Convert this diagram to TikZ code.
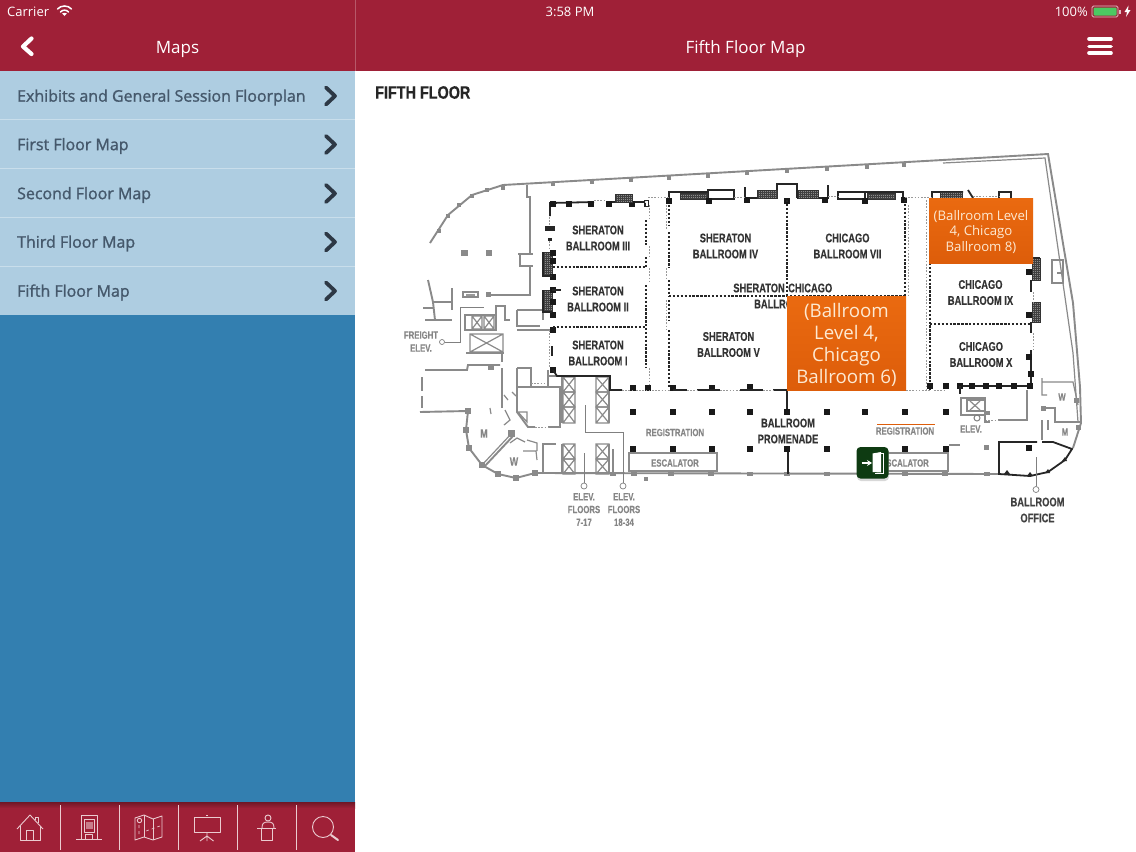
\documentclass[tikz,border=0pt]{standalone}
\usepackage{fontspec}
\usetikzlibrary{shadows,arrows.meta}
\setmainfont{Open Sans}
\newfontfamily\listfont[FakeBold=1.3]{Open Sans}
\newfontfamily\planfont[FakeStretch=0.74,FakeBold=0.2]{Liberation Sans}
\newfontfamily\greyfont[FakeStretch=0.74,FakeBold=0.1]{Liberation Sans}
\newfontfamily\titlefont[FakeStretch=0.8,FakeBold=0.3]{Liberation Sans}
\definecolor{barred}{HTML}{9F2037}
\definecolor{listblue}{HTML}{AECDE1}
\definecolor{listline}{HTML}{C9DEEB}
\definecolor{deepblue}{HTML}{337FB0}
\definecolor{listtext}{HTML}{45586B}
\definecolor{chev}{HTML}{2D3845}
\definecolor{orangetop}{HTML}{EA6A10}
\definecolor{orangebot}{HTML}{DD5D0A}
\definecolor{orangetext}{HTML}{FDE9D2}
\definecolor{wallgray}{HTML}{8A8A8A}
\definecolor{labgray}{HTML}{868686}
\definecolor{exitgreen}{HTML}{0E3B12}
\definecolor{iconline}{HTML}{EBCBD0}
\definecolor{battgreen}{HTML}{4CC962}
\tikzset{
  wallg/.style={draw=wallgray,line width=1.9pt},
  wallt/.style={draw=wallgray,line width=1.2pt},
  wallk/.style={draw=black!85,line width=1.8pt},
  part/.style={draw=black!85,line width=1.5pt,dash pattern=on 2.4pt off 1.5pt},
  gate/.style={draw=black!40,line width=1pt,dash pattern=on 1.6pt off 1.6pt},
  lead/.style={draw=black!50,line width=.7pt},
  roomlab/.style={font=\planfont\bfseries\fontsize{12.6}{16}\selectfont,text=black!80,align=center,inner sep=0pt},
  greylab/.style={font=\greyfont\bfseries\fontsize{10.5}{13}\selectfont,text=labgray,align=center,inner sep=0pt},
  listlab/.style={anchor=west,inner sep=0pt,text=listtext,font=\listfont\fontsize{15.95}{18}\selectfont},
  chevron/.style={draw=chev,line width=3.8pt,line cap=round,line join=round},
  icon/.style={draw=iconline,line width=.9pt,line join=round},
  white text/.style={text=white,inner sep=0pt},
  leadcircle/.style={circle,draw=black!50,line width=.7pt,minimum size=6pt,inner sep=0pt,fill=white},
}
\newcommand{\colk}[2]{\fill[black!90] (#1-2.7,#2-2.7) rectangle ++(5.4,5.4);}
\newcommand{\colg}[2]{\fill[wallgray] (#1-2.6,#2-2.2) rectangle ++(5.2,4.4);}
\newcommand{\stairs}[4]{\fill[black!45] (#1,#2) rectangle (#3,#4);
  \draw[black!75,line width=.35pt,step=2pt] (#1,#2) grid (#3,#4);
  \draw[black!80,line width=.6pt] (#1,#2) rectangle (#3,#4);}
\newcommand{\xbox}[4]{\draw[wallt] (#1,#2) rectangle (#3,#4) (#1,#2) -- (#3,#4) (#1,#4) -- (#3,#2);}
\begin{document}
\begin{tikzpicture}[x=1pt,y=-1pt]
\useasboundingbox (0,0) rectangle (1136,852);
% backgrounds
\fill[white] (0,0) rectangle (1136,852);
\fill[barred] (356,0) rectangle (1136,71);
\fill[barred] (0,0) rectangle (355,71);
\fill[listblue] (0,71) rectangle (355,315);
\fill[deepblue] (0,315) rectangle (355,803);
\fill[barred] (0,803) rectangle (355,852);
\shade[top color=black!30!barred,bottom color=barred] (0,802) rectangle (355,808);
\foreach \yy in {119.5,168.5,217.5,266} \draw[listline,line width=.8pt] (0,\yy) -- (355,\yy);
\draw[white!25!barred,line width=.6pt] (355.5,0) -- (355.5,71);
% status bar
\node[white text,anchor=west,font=\fontsize{13}{15}\selectfont] (carrier) at (7,12) {Carrier};
\node[white text,font=\fontsize{13}{15}\selectfont] (clock) at (570,12) {3:58 PM};
\node[white text,anchor=east,font=\fontsize{13}{15}\selectfont] (batt) at (1088,12) {100\%};
\begin{scope}[white,line cap=round]
\draw[line width=1.5pt] (57.5,9) .. controls (61,5) and (68,5) .. (71.5,9);
\draw[line width=1.5pt] (60.5,12) .. controls (62.5,9.5) and (66.5,9.5) .. (68.5,12);
\fill (64.5,16) -- (62.2,13.5) .. controls (63.5,12.5) and (65.5,12.5) .. (66.8,13.5) -- cycle;
\end{scope}
\draw[white!70!barred,line width=.8pt,rounded corners=1.5pt] (1092,6) rectangle (1118,17);
\fill[battgreen,rounded corners=1pt] (1093.5,7.5) rectangle (1116.5,15.5);
\fill[white!70!barred] (1119,9.5) rectangle (1120.5,13.5);
\fill[white] (1128.5,5.5) -- (1124.5,12) -- (1127,12) -- (1126,17) -- (1130.5,10) -- (1128,10) -- cycle;
% nav
\draw[white,line width=4.2pt,line cap=round,line join=round] (31.5,38.5) -- (23,46.5) -- (31.5,54);
\node[white text,font=\fontsize{17}{20}\selectfont] (mapstitle) at (177.5,49) {Maps};
\node[white text,font=\fontsize{17}{20}\selectfont] (fifthtitle) at (745.5,49) {Fifth Floor Map};
\foreach \yy in {39,46.5,53} \draw[white,line width=3.6pt,line cap=round] (1089,\yy) -- (1111,\yy);
% list
\node[listlab] (l1) at (17,97.5) {Exhibits and General Session Floorplan};
\node[listlab] (l2) at (17,146) {First Floor Map};
\node[listlab] (l3) at (17,195) {Second Floor Map};
\node[listlab] (l4) at (17,243.5) {Third Floor Map};
\node[listlab] (l5) at (17,292.5) {Fifth Floor Map};
\foreach \yy in {96,144.5,193.5,242,291} \draw[chevron] (326,\yy-8.5) -- (335,\yy) -- (326,\yy+8.5);
% tab bar
\foreach \xx in {60,119,178,237,296} \draw[iconline,line width=.9pt] (\xx,805) -- (\xx,850);
\begin{scope}[icon]
\draw (17,829) -- (30,815) -- (43,829);
\draw (20,826) -- (20,840) -- (40,840) -- (40,826);
\draw (26,840) -- (26,830) -- (33,830) -- (33,840);
\draw (35.5,820) -- (35.5,817) -- (38.5,817) -- (38.5,823);
\draw (81,839) -- (81,815) -- (97,815) -- (97,839);
\draw (76,839.5) -- (102,839.5);
\draw (84,819) rectangle (94,832);
\fill[iconline,opacity=.55] (85.5,822) rectangle (92.5,829);
\draw (85,834) rectangle (92,839);
\draw (135,818) -- (144,815) -- (153,819) -- (162,816) -- (162,837) -- (153,840) -- (144,837) -- (135,840) -- cycle;
\draw (144,815) -- (144,837) (153,819) -- (153,840);
\draw (139.5,820.5) circle (2.2);
\draw[dashed,line width=.6pt] (139,825) -- (139,834) (146,831) -- (160,826);
\draw (194,817) rectangle (220,832);
\draw (206,815) -- (208,815);
\draw (207,832) -- (207,836) (207,836) -- (200,841) (207,836) -- (213.5,841) (207,836) -- (207,841);
\draw (268,818) circle (3);
\draw (262,828) .. controls (262,823) and (264,822) .. (268,822) .. controls (272,822) and (274,823) .. (274,828);
\draw (257,828) -- (276,828);
\draw (261,828) -- (261,840) -- (272,840) -- (272,828);
\draw (323,827) circle (10.5);
\draw[line width=2pt,line cap=round] (331,835) -- (338,840);
\end{scope}
% ---------- floor plan ----------
\node[anchor=west,inner sep=0pt,text=black!85,font=\titlefont\bfseries\fontsize{18}{20}\selectfont] (floortitle) at (375,92.5) {FIFTH FLOOR};
% outer wall
\draw[wallg] (430,243) -- (448,215) -- (472,195) -- (503,185) -- (1048,154) -- (1073,303) -- (1080,387) -- (1081,423) -- (1073,448);
\draw[wallt] (943,163) -- (1045,158) -- (1073,353) -- (1078,422);
\foreach \a/\b in {448/215,472/195,439/230,459/204,487/189,503/187,553/183,592/181,631/179,669/177,708/175,747/172,787/170,827/168,867/166,904/164} \fill[wallgray] (\a-2.2,\b-1) rectangle ++(4.4,4.4);
% bottom wall
\draw[wallg] (420,412) -- (468,411) -- (466,430) -- (469,448) -- (482,465) -- (498,474) -- (516,478) -- (535,473) -- (1000,474);
\draw[wallt] (482,465) -- (512,433);
\draw[wallg] (484,467) -- (514,435);
\fill[wallgray] (508,430) rectangle (515,437);
\foreach \a/\b in {468/411,466/430,469/448,482/465,498/474,516/478,535/473} \fill[wallgray] (\a-2.7,\b-2.7) rectangle ++(5.4,5.4);
\foreach \a in {613,634,671,711,750,787,827,905,945,987} \colg{\a}{474}
\fill[wallgray] (644,477) rectangle (648,481);
% upper-left gray interior
\draw[wallg] (527,185) -- (527,197) -- (530,197) -- (530,253);
\draw[wallg] (518,254) -- (533,254);
\draw[wallg] (520,255) -- (520,266) -- (533,266);
\draw[wallg] (530,266) -- (530,295) -- (490,295);
\fill[wallgray] (461,250) rectangle (468,256);
\fill[wallgray] (486,250) rectangle (492,256);
\fill[wallgray] (486,292) rectangle (491,297);
\draw[wallt] (463,292) rectangle (478,297);
\fill[black!40] (466,293.5) rectangle (475,295.5);
% freight
\draw[wallg] (428,280) -- (433,302) -- (435,320);
\draw[wallg] (425,320) -- (452,320) (423,308) -- (434,308) (433,302) -- (452,302) (452,288) -- (452,310);
\draw[wallg] (465,315) rectangle (496,330);
\draw[wallt] (472,316) rectangle (482,329) (472,316) -- (482,329) (472,329) -- (482,316);
\draw[wallt] (484,316) rectangle (494,329) (484,316) -- (494,329) (484,329) -- (494,316);
\xbox{470}{334}{503}{352}
\draw[wallg] (466,353) -- (504,353);
\draw[wallt] (496,325) -- (496,306) -- (505,306) -- (505,320) -- (510,320);
\node[leadcircle,minimum size=5pt] (frcirc) at (442,342) {};
\draw[lead] (frcirc) -- (460,342) -- (460,307) -- (484,307);
\node[greylab] (freight) at (421,341.5) {FREIGHT\\ELEV.};
% mid-left rooms
\draw[wallg] (517,310) -- (517,326) -- (540,326) (517,310) -- (543,310) -- (543,320);
\draw[wallg] (517,330) -- (552,330);
\draw[wallg] (425,370) -- (467,370) -- (468,365) -- (500,365);
\draw[wallg,dash pattern=on 14pt off 5pt] (422,377) -- (422,408);
\fill[wallgray] (488,364) rectangle (494,370);
\draw[wallt] (502,353) -- (502,362) (502,368) -- (502,408);
\draw[wallt] (504,395) -- (508,400) (512,392) -- (516,396);
\draw[wallg] (517,368) -- (517,412) -- (528,427) -- (535,427);
\draw[wallg] (517,387) -- (560,387) -- (560,427) -- (548,427);
\draw[wallt] (517,368) -- (531,368) -- (531,387);
\draw[wallt] (518,412) -- (527,412) -- (527,422) -- cycle;
\draw[wallt] (548,370) -- (548,386) (548,376) -- (557,376);
\draw[gate] (531,383) -- (546,383) (535,427) -- (548,427);
\xbox{563}{377}{575}{392}
\xbox{563}{392}{575}{407}
\xbox{563}{407}{575}{423}
\xbox{596}{377}{609}{392}
\xbox{596}{392}{609}{407}
\xbox{596}{407}{609}{423}
\xbox{563}{444}{575}{459}
\xbox{563}{459}{575}{474}
\xbox{596}{444}{609}{459}
\xbox{596}{459}{609}{474}
\draw[wallg] (562,377) -- (562,423) (609,377) -- (609,423) (562,444) -- (562,474) (609,444) -- (609,474);
\draw[wallt] (613,449) -- (613,472);
\draw[wallg] (543,474) -- (543,444) -- (556,444);
\draw[wallt] (490,408) -- (491,414) (505,410) -- (510,420) -- (504,425) (510,443) -- (517,438) -- (525,442) (523,451) -- (536,451) -- (537,460) (527,440) -- (537,443) -- (537,451);
\node[greylab,font=\greyfont\bfseries\fontsize{12}{14}\selectfont] (mw1) at (484,433.5) {M};
\node[greylab,font=\greyfont\bfseries\fontsize{12}{14}\selectfont] (mw2) at (514,461.5) {W};
% elevator leaders
\node[leadcircle] (e1) at (584,486) {};
\node[leadcircle] (e2) at (623,486) {};
\draw[lead] (e1) -- (584,453);
\draw[lead] (e2) -- (623,432) -- (585,432) -- (585,405);
\node[greylab,font=\greyfont\bfseries\fontsize{10.5}{12.8}\selectfont] (el1) at (584,509.5) {ELEV.\\FLOORS\\7-17};
\node[greylab,font=\greyfont\bfseries\fontsize{10.5}{12.8}\selectfont] (el2) at (624,509.5) {ELEV.\\FLOORS\\18-34};
% ballroom walls - top
\draw[wallk] (550,216) -- (550,203) -- (594,202) (606,202) -- (645,202);
\foreach \a in {553,569,591,609,632} \colk{\a}{204}
\stairs{615}{194}{632}{202}
\draw[wallk] (645,203) -- (645,207);
\draw[wallk,line width=1pt] (644,200) rectangle (648,206);
\draw[wallk] (669,200) -- (669,192) -- (708,192);
\draw[wallk] (708,190) rectangle (734,199);
\stairs{680}{193}{707}{199}
\colk{709}{201}\colk{669}{201}
\draw[wallk] (745,187) -- (745,198) -- (757,198);
\draw[wallk] (777,198) -- (777,184) -- (797,184) -- (797,198) (777,198) -- (749,198) (797,198) -- (828,198) -- (828,185);
\stairs{757}{190}{777}{198}
\stairs{798}{190}{818}{198}
\colk{747}{200}\colk{787}{201}\colk{825}{200}
\draw[wallk] (838,192) rectangle (865,199);
\stairs{867}{193}{895}{199}
\draw[wallk] (865,192) -- (903,192) -- (903,199);
\colk{865}{201}\colk{904}{200}
\draw[wallk] (932,198) -- (932,192) -- (963,192) (968,190) -- (973,198);
\stairs{940}{192}{962}{198}
\draw[wallk] (999,198) -- (999,192) -- (1011,192) -- (1011,198);
\draw[gate] (594,200) -- (606,200) (648,197) -- (669,197) (734,197) -- (745,197) (828,196) -- (838,196) (905,197) -- (932,197) (973,196) -- (999,196);
% sheraton partitions
\draw[gate] (549,217) -- (549,232) (549,238) -- (549,250);
\fill[black!85] (545,226) rectangle (555,231);
\fill[black!85] (548,238) rectangle (552,241);
\stairs{543}{252}{552}{276}
\stairs{543}{290}{552}{312}
\foreach \b in {253,261,277,290,302,315,330,370} \colk{553}{\b}
\draw[wallk] (543,252) -- (543,276) -- (552,276);
\draw[wallk] (552,290) -- (561,290) (543,290) -- (543,312) -- (552,312);
\draw[part] (553,267) -- (646,267);
\draw[part] (553,327) -- (646,327);
\draw[part] (646,220) -- (646,245) (646,257) -- (646,267) (646,285) -- (646,367);
\draw[gate] (649,205) -- (649,219) (649,246) -- (649,257) (649,268) -- (649,283) (649,368) -- (649,388);
\draw[part] (669,205) -- (669,225) (669,232) -- (669,268) (669,280) -- (669,296) (669,300) -- (669,320) (669,330) -- (669,388);
\draw[gate] (666,205) -- (666,230) (666,268) -- (666,278) (666,300) -- (666,330);
\draw[gate] (549,330) -- (549,367);
\draw[wallk] (552,346) -- (552,356);
\draw[wallk] (553,370) -- (557,376) -- (610,376) -- (610,390) -- (622,390);
% bottom wall row
\colk{633}{388}\colk{648}{388}\colk{673}{388}\colk{712}{388}\colk{750}{387}
\draw[wallk] (673,390) -- (687,390) (697,390) -- (720,390) (740,390) -- (763,390) (773,390) -- (787,390);
\draw[gate] (622,390) -- (632,390) (636,390) -- (670,390) (687,390) -- (697,390) (720,390) -- (740,390) (763,390) -- (773,390) (906,390) -- (930,390) (934,390) -- (946,390);
\draw[wallk] (787,390) -- (787,412);
\draw[wallk] (788,450) -- (788,474);
% sheraton / chicago centre partitions
\draw[part] (669,296) -- (905,296);
\draw[part] (787,200) -- (787,296);
\draw[part] (905,200) -- (905,296);
\draw[gate] (908,205) -- (908,296);
% chicago right block
\draw[gate] (926,200) -- (926,390);
\draw[part] (930,263) -- (930,390);
\draw[part] (930,324) -- (1031,324);
\stairs{1032}{258}{1040}{280}
\stairs{1032}{302}{1040}{322}
\draw[wallk] (1032,258) -- (1040,258) (1031,280) -- (1031,292) (1031,322) -- (1031,333) (1031,350) -- (1031,387);
\colk{1029}{272}\colk{1029}{315}\colk{1029}{357}\colk{1031}{374}
\draw[gate] (1033,292) -- (1033,302) (1033,333) -- (1033,350);
\colk{930}{386}\colk{946}{386}
\draw[wallk] (960,386) -- (1031,386);
\foreach \a in {960,972,986,999,1014,1030} \colk{\a}{386}
\draw[wallk] (960,386) -- (960,394);
\draw[wallt] (1052,260) rectangle (1063,283);
\draw[wallt] (1057,273) -- (1063,273);
% columns in promenade
\foreach \a in {633,673,712,750,787,827,865,905,946} \colk{\a}{412}
\foreach \a in {633,673,712,750,787,827,905,946} \colk{\a}{449}
% escalators
\draw[wallt,draw=black!45] (629,453) rectangle (717,471);
\draw[wallt,draw=black!45] (862,453) rectangle (948,471);
\node[greylab] (esc1) at (675,463) {ESCALATOR};
\node[greylab] (esc2) at (905,463) {ESCALATOR};
\node[greylab] (reg1) at (675,432.5) {REGISTRATION};
\node[greylab] (reg2) at (905,431) {REGISTRATION};
\draw[orangebot,line width=1.2pt] (877,424.5) -- (935,424.5);
\node[roomlab] (promenade) at (788,431) {BALLROOM\\PROMENADE};
% east rooms
\draw[wallg] (1027,390) -- (1027,420) -- (998,420);
\draw[gate] (985,420) -- (998,420);
\draw[wallt] (961,398) rectangle (985,415);
\draw[wallt] (967,400) rectangle (985,411);
\draw[wallt] (970,401) -- (980,410) (970,410) -- (980,401);
\draw[wallt] (985,415) -- (985,422) -- (990,422);
\draw[black!50,line width=1pt] (977,418) circle (3);
\fill[wallgray] (985,411) rectangle (990,415);
\fill[wallgray] (984,445) rectangle (989,450);
\draw[wallg] (949,445) -- (960,445);
\node[greylab,font=\greyfont\bfseries\fontsize{10.5}{12}\selectfont] (elev3) at (971,429) {ELEV.};
\draw[wallt] (1042,378) -- (1042,395) -- (1047,395) (1042,382) -- (1073,382) -- (1078,405);
\draw[wallt] (1043,408) -- (1055,408) -- (1055,422) -- (1080,422) (1042,420) -- (1042,440) (1048,420) -- (1048,430);
\fill[wallgray] (1041,406) rectangle (1046,411);
\fill[wallgray] (1074,398) rectangle (1079,403);
\fill[wallgray] (1076,425) rectangle (1081,430);
\node[greylab,font=\greyfont\bfseries\fontsize{10.5}{12}\selectfont] (w3) at (1062,397) {W};
\node[greylab,font=\greyfont\bfseries\fontsize{10.5}{12}\selectfont] (m3) at (1065,432) {M};
% ballroom office
\draw[wallk] (1037,442) -- (999,442) -- (999,474) -- (1030,476) -- (1048,472) -- (1065,460) -- (1072,449) -- (1053,442) -- (1042,442);
\fill[black!85] (1007,470) -- (1010,474) -- (1004,474) -- cycle;
\fill[black!85] (1030,472) -- (1033,476) -- (1027,476) -- cycle;
\fill[black!85] (1048,469) -- (1050,473) -- (1045,473) -- cycle;
\fill[black!85] (1065,457) -- (1067,461) -- (1062,461) -- cycle;
\colk{1029}{448}
\node[leadcircle] (boff) at (1036,489.5) {};
\draw[lead] (boff) -- (1036,457);
\node[roomlab,text=black!75] (ballroomoffice) at (1037.5,510) {BALLROOM\\OFFICE};
% room labels
\node[roomlab] (sh3) at (598,238) {SHERATON\\BALLROOM III};
\node[roomlab] (sh2) at (598,299) {SHERATON\\BALLROOM II};
\node[roomlab] (sh1) at (598,353) {SHERATON\\BALLROOM I};
\node[roomlab] (sh4) at (725.5,246) {SHERATON\\BALLROOM IV};
\node[roomlab] (sh5) at (728.5,344.5) {SHERATON\\BALLROOM V};
\node[roomlab] (ch7) at (847.5,246) {CHICAGO\\BALLROOM VII};
\node[roomlab] (ch9) at (980.5,292.5) {CHICAGO\\BALLROOM IX};
\node[roomlab] (ch10) at (981,354.5) {CHICAGO\\BALLROOM X};
\node[roomlab,anchor=east] (sh6a) at (785,288) {SHERATON};
\node[roomlab,anchor=west] (ch6a) at (788,288) {CHICAGO};
\node[roomlab,anchor=west] (sh6b) at (754,304) {BALLROOM};
% orange overlays
\shade[top color=orangetop,bottom color=orangebot] (787,296) rectangle (906,390);
\shade[top color=orangetop,bottom color=orangebot] (929,198) rectangle (1033,263);
\node[text=orangetext,align=center,inner sep=0pt,font=\fontsize{18.7}{22}\selectfont] (box6t) at (846.5,345) {(Ballroom\\Level 4,\\Chicago\\Ballroom 6)};
\node[text=orangetext,align=center,inner sep=0pt,font=\fontsize{13.2}{15.6}\selectfont] (box8t) at (981,232) {(Ballroom Level\\4, Chicago\\Ballroom 8)};
% exit icon
\fill[black!30,opacity=.5,rounded corners=4pt] (857,449) rectangle (889,481);
\fill[exitgreen,rounded corners=4pt] (856.5,447) rectangle (888.5,478.5);
\fill[white] (872.5,453.5) -- (881,452) -- (881,472.5) -- (872.5,472) -- cycle;
\draw[white,line width=1pt] (881,453) -- (883.5,453) -- (883.5,473) -- (875,473);
\draw[white,line width=1.8pt,-{Stealth[length=5pt,width=6pt]}] (861.5,463) -- (872,463);
\end{tikzpicture}
\end{document}
